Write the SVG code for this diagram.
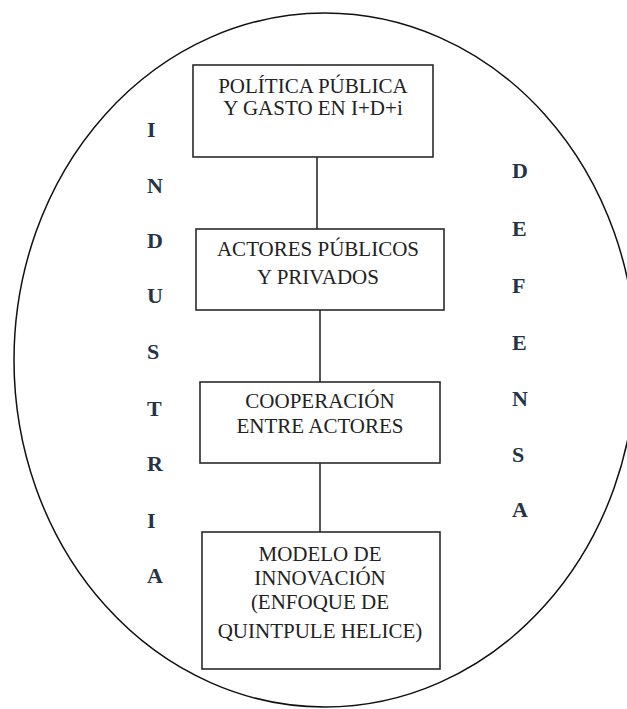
<svg xmlns="http://www.w3.org/2000/svg" width="627" height="709" viewBox="0 0 627 709">
<style>
.box{fill:#fff;stroke:#2a2a2a;stroke-width:1.6}
.t{font-family:"Liberation Serif","Times New Roman","DejaVu Serif",serif;font-size:21px;fill:#222;text-anchor:middle}
.side{font-family:"Liberation Serif","Times New Roman","DejaVu Serif",serif;font-size:22px;font-weight:bold;fill:#243447}
.conn{stroke:#555;stroke-width:2;fill:none}
</style>
<rect width="627" height="709" fill="#fff"/>
<ellipse id="boundary" cx="325" cy="360" rx="311" ry="347" fill="none" stroke="#111" stroke-width="1.5"/>
<g id="connectors">
<line class="conn" x1="317" y1="157" x2="317" y2="229"/>
<line class="conn" x1="320" y1="310" x2="320" y2="382"/>
<line class="conn" x1="320" y1="463" x2="320" y2="532"/>
</g>
<g id="node1">
<rect class="box" x="193" y="65" width="240" height="92"/>
<text class="t" font-family="Liberation Serif, serif" x="313" y="93">POLÍTICA PÚBLICA</text>
<text class="t" font-family="Liberation Serif, serif" x="313" y="115">Y GASTO EN I+D+i</text>
</g>
<g id="node2">
<rect class="box" x="196" y="229" width="248" height="81"/>
<text class="t" font-family="Liberation Serif, serif" x="318" y="256">ACTORES PÚBLICOS</text>
<text class="t" font-family="Liberation Serif, serif" x="318" y="284">Y PRIVADOS</text>
</g>
<g id="node3">
<rect class="box" x="200" y="382" width="240" height="81"/>
<text class="t" font-family="Liberation Serif, serif" x="320" y="408">COOPERACIÓN</text>
<text class="t" font-family="Liberation Serif, serif" x="320" y="433">ENTRE ACTORES</text>
</g>
<g id="node4">
<rect class="box" x="202" y="532" width="238" height="137"/>
<text class="t" font-family="Liberation Serif, serif" x="320" y="561">MODELO DE</text>
<text class="t" font-family="Liberation Serif, serif" x="320" y="585">INNOVACIÓN</text>
<text class="t" font-family="Liberation Serif, serif" x="320" y="609">(ENFOQUE DE</text>
<text class="t" font-family="Liberation Serif, serif" x="320" y="638">QUINTPULE HELICE)</text>
</g>
<g id="industria">
<text class="side" x="147" y="137">I</text>
<text class="side" x="147" y="193">N</text>
<text class="side" x="147" y="248">D</text>
<text class="side" x="147" y="303">U</text>
<text class="side" x="147" y="359">S</text>
<text class="side" x="147" y="416">T</text>
<text class="side" x="147" y="471">R</text>
<text class="side" x="147" y="528">I</text>
<text class="side" x="147" y="583">A</text>
</g>
<g id="defensa">
<text class="side" x="512" y="178">D</text>
<text class="side" x="512" y="236">E</text>
<text class="side" x="512" y="293">F</text>
<text class="side" x="512" y="350">E</text>
<text class="side" x="512" y="406">N</text>
<text class="side" x="512" y="462">S</text>
<text class="side" x="512" y="517">A</text>
</g>
</svg>
